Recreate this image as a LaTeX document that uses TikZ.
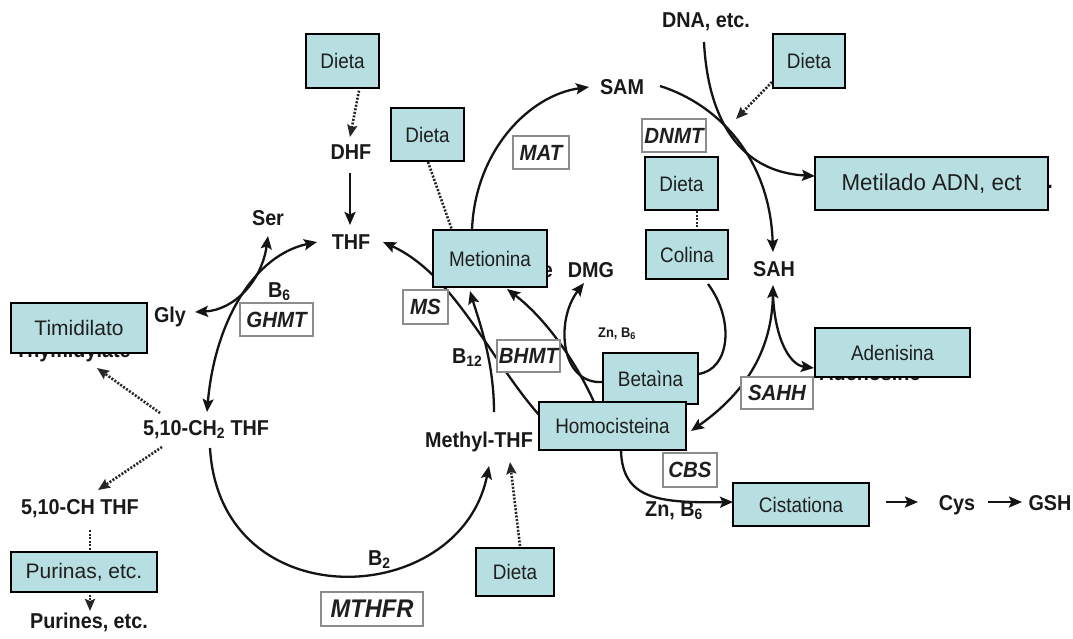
\documentclass[tikz,border=0pt]{standalone}
\usepackage{fontspec}
\setmainfont{Liberation Sans}
\newfontfamily\labfont[FakeStretch=0.92]{Liberation Sans}
\newfontfamily\boxfont[FakeStretch=0.9]{Liberation Sans}
\newfontfamily\boxfontw{Liberation Sans}
\newfontfamily\metfont[FakeStretch=0.97]{Liberation Sans}
\newfontfamily\enzfont[FakeStretch=0.93]{Liberation Sans}
\usetikzlibrary{arrows.meta}
\definecolor{boxfill}{RGB}{183,222,225}
\definecolor{enzline}{RGB}{140,140,140}
\pgfdeclarelayer{bg}
\pgfsetlayers{bg,main}
\tikzset{
  box/.style={draw=black, line width=1.3pt, fill=boxfill, inner sep=0pt, text=black!88,
    font=\boxfont\fontsize{21}{24}\selectfont},
  boxw/.style={font=\boxfontw\fontsize{21}{24}\selectfont},
  boxmet/.style={font=\metfont\fontsize{23}{26}\selectfont},
  enz/.style={draw=enzline, line width=1.6pt, fill=white, inner sep=0pt, text=black!88,
    font=\enzfont\bfseries\itshape\fontsize{22}{24}\selectfont},
  lab/.style={inner sep=0pt, text=black!90, font=\labfont\bfseries\fontsize{21.5}{24}\selectfont},
  smalllab/.style={inner sep=0pt, text=black!90, font=\labfont\bfseries\fontsize{14}{16}\selectfont},
  conn/.style={line width=2.3pt, draw=black!92},
  arr/.style={conn, -{Stealth[length=13pt,width=11pt,inset=2.5pt]}},
  darr/.style={conn, {Stealth[length=13pt,width=11pt,inset=2.5pt]}-{Stealth[length=13pt,width=11pt,inset=2.5pt]}},
  dotline/.style={line width=2.6pt, draw=black!85, dash pattern=on 2pt off 1.6pt},
  dotarr/.style={dotline, -{Stealth[length=12pt,width=10pt,inset=2pt]}}
}
\begin{document}
\begin{tikzpicture}[x=1pt,y=-1pt]
\begin{pgfonlayer}{bg}
\fill[white] (0,0) rectangle (1073,638);
\end{pgfonlayer}
\useasboundingbox (0,0) rectangle (1073,638);

% ---------- teal boxes ----------
\node[box, minimum width=73, minimum height=54] (dieta1) at (342.5,61) {Dieta};
\node[box, minimum width=73, minimum height=53] (dieta2) at (427.5,134.5) {Dieta};
\node[box, minimum width=72, minimum height=54] (dieta3) at (809,61) {Dieta};
\node[box, boxmet, minimum width=233, minimum height=53] (metil) at (931.5,183.5) {Metilado ADN, ect};
\node[box, minimum width=73, minimum height=53] (dieta4) at (681.5,183.5) {Dieta};
\node[box, minimum width=82, minimum height=49] (colina) at (687,254.5) {Colina};
\node[box, minimum width=114, minimum height=57] (metionina) at (490,258.5) {Metionina};
\node[box, minimum width=95, minimum height=51] (betaina) at (650.5,378.5) {Betaìna};
\node[box, minimum width=147, minimum height=48] (homocis) at (612.5,426) {Homocisteina};
\node[box, minimum width=136, minimum height=43] (cistat) at (801,504.5) {Cistationa};
\node[box, minimum width=155, minimum height=49] (adenis) at (892.5,352.5) {Adenisina};
\node[box, boxw, minimum width=136, minimum height=50] (timid) at (79,328) {Timidilato};
\node[box, boxw, minimum width=146, minimum height=40] (purinas) at (84,572) {Purinas, etc.};
\node[box, minimum width=78, minimum height=48] (dieta5) at (515,572) {Dieta};

% ---------- enzyme boxes ----------
\node[enz, minimum width=73, minimum height=33] (ghmt) at (276.5,319.5) {GHMT};
\node[enz, minimum width=45, minimum height=34] (ms) at (425.5,307) {MS};
\node[enz, minimum width=56, minimum height=33] (mat) at (541,152.5) {MAT};
\node[enz, minimum width=64, minimum height=33] (dnmt) at (674,135.5) {DNMT};
\node[enz, minimum width=63, minimum height=32] (bhmt) at (528.5,356) {BHMT};
\node[enz, minimum width=72, minimum height=32] (sahh) at (777,393) {SAHH};
\node[enz, minimum width=54, minimum height=34] (cbs) at (690,470) {CBS};
\node[enz, minimum width=102, minimum height=34, font=\enzfont\bfseries\itshape\fontsize{25.5}{27}\selectfont] (mthfr) at (372,609) {MTHFR};

% ---------- labels ----------
\node[lab, anchor=base] (dna) at (706,27) {DNA, etc.};
\node[lab, anchor=base] (sam) at (622,94) {SAM};
\node[lab, anchor=base] (dhf) at (351,159) {DHF};
\node[lab, anchor=base] (thf) at (351,249) {THF};
\node[lab, anchor=base] (ser) at (268,225) {Ser};
\node[lab, anchor=base] (gly) at (170,322) {Gly};
\node[lab, anchor=base west] (b6a) at (268,297) {B\textsubscript{6}};
\node[lab, anchor=base] (dmg) at (591,277) {DMG};
\node[smalllab, anchor=base west] (znb6a) at (598,337) {Zn, B\textsubscript{6}};
\node[lab, anchor=base west] (b12) at (452,363) {B\textsubscript{12}};
\node[lab, anchor=base] (sah) at (774,276) {SAH};
\node[lab, anchor=base] (mthf) at (479,447) {Methyl-THF};
\node[lab, anchor=base west] (ch2) at (143,435) {5,10-CH\textsubscript{2} THF};
\node[lab, anchor=base west] (ch) at (21,514) {5,10-CH THF};
\node[lab, anchor=base west] (pur) at (30,628) {Purines, etc.};
\node[lab, anchor=base west] (b2) at (368,565) {B\textsubscript{2}};
\node[lab, anchor=base west] (znb6b) at (645,516) {Zn, B\textsubscript{6}};
\node[lab, anchor=base] (cys) at (957,510) {Cys};
\node[lab, anchor=base] (gsh) at (1050,510) {GSH};

\begin{pgfonlayer}{bg}
% labels partly hidden under the boxes
\node[lab, anchor=base west] (thym) at (15,357) {Thymidylate};
\node[lab, anchor=base east] (methionine) at (553,277) {Methionine};
\node[lab, anchor=base east] (choline) at (730,273) {Choline};
\node[lab, anchor=base east] (betaine) at (700,378) {Betaine};
\node[lab, anchor=base east] (cystathionine) at (870,509) {Cystathionine};
\node[lab, anchor=base] (adenosine) at (870,380) {Adenosine};
\node[lab, anchor=base east] (methdna) at (1053,188) {Methylated DNA, etc.};

% ---------- connectors ----------
\draw[dotarr] (dieta1.south -| dhf.north) ++(8,2) coordinate (d1s) -- (350,137);
\draw[arr] (350,173) -- (350,225);
\draw[dotline] (428,162) -- (452,230);
\draw[arr] (472,230) .. controls (475,150) and (530,95) .. (589,87);
\draw[arr] (660,86) .. controls (720,105) and (770,160) .. (773,252);
\draw[arr] (704,42) .. controls (708,120) and (740,172) .. (815,176);
\draw[dotarr] (772,82) -- (736,119);
\draw[dotline] (697,211) -- (697,230);
\draw[conn] (708,284) .. controls (735,320) and (730,370) .. (698,374);
\draw[arr] (603,382) .. controls (560,385) and (555,320) .. (584,283);
\draw[arr] (540,416) .. controls (490,360) and (455,275) .. (383,242);
\draw[arr] (494,412) .. controls (494,360) and (478,318) .. (470,291);
\draw[arr] (594,402) .. controls (575,360) and (545,318) .. (507,289);
\draw[darr] (207,412) .. controls (215,320) and (255,255) .. (317,242);
\draw[darr] (195,312) .. controls (235,310) and (262,280) .. (268,236);
\draw[dotarr] (160,413) -- (97,368);
\draw[dotarr] (162,447) -- (98,490);
\draw[dotarr] (90,530) -- (90,611);
\draw[arr] (210,448) .. controls (220,620) and (460,610) .. (489,466);
\draw[dotarr] (520,546) -- (510,462);
\draw[darr] (773,285) .. controls (772,360) and (735,400) .. (691,431);
\draw[arr] (773,295) .. controls (775,340) and (790,365) .. (814,368);
\draw[arr] (621,450) .. controls (622,500) and (660,503) .. (733,502);
\coordinate (a1s) at (886,502);
\coordinate (a1e) at (918,502);
\coordinate (a2s) at (988,502);
\coordinate (a2e) at (1022,502);
\draw[arr] (a1s) -- (a1e);
\draw[arr] (a2s) -- (a2e);
\end{pgfonlayer}
\end{tikzpicture}
\end{document}
